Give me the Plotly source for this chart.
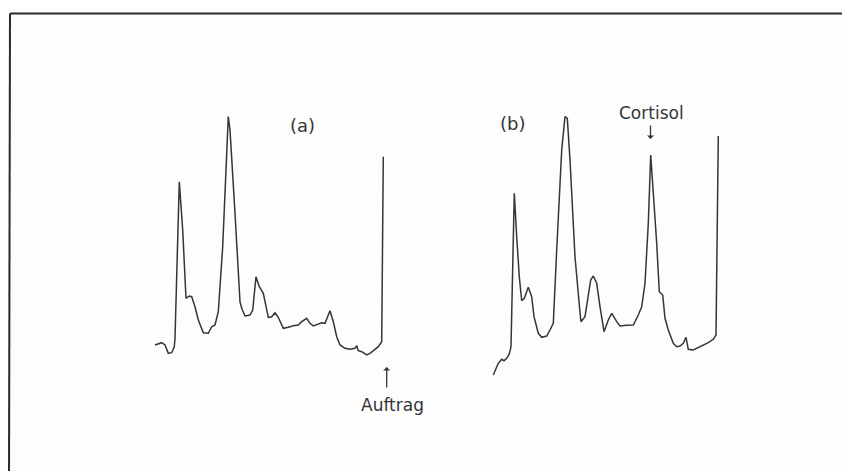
import plotly.graph_objects as go

# Chromatogramm (a): Retentionsposition / Detektorsignal (Bildkoordinaten, y nach unten)
time_a = [155, 161.7, 165, 168.3, 171.7, 174.3, 175, 179.3, 182.7, 186, 189.3, 191.7,
          195, 198.3, 203.3, 208.3, 211.7, 215, 218.3, 222.7, 228.3, 230, 235, 240,
          241.7, 245, 250, 252.7, 256, 259.3, 263.3, 266, 268.3, 271.7, 275, 278.3,
          283.3, 288.3, 293.3, 298.3, 301.7, 306.7, 310, 313.3, 318.3, 321.7, 325,
          330, 333.3, 336.7, 340, 345, 350, 355, 356.7, 358.3, 361.7, 366.7, 370,
          373.3, 378.3, 381.7, 383.3]
signal_a = [345, 342.7, 345, 353.3, 352.7, 346.7, 338.3, 181.7, 230, 298.3, 296, 296.7,
            306.7, 320, 332.7, 333.3, 326.7, 325, 311.7, 246.7, 116.5, 130, 213.3, 301.7,
            308.3, 316, 315, 310, 276.7, 286.7, 293.3, 306.7, 317.3, 316.7, 312.7, 317.3,
            328.3, 327.3, 325.7, 325, 321.7, 318.3, 323.3, 326, 324.3, 322.7, 323.3,
            310.7, 321.7, 336.7, 345, 348.3, 349.3, 348.3, 345.7, 350.7, 351.7, 355, 353.3,
            350.7, 346.7, 341.7, 156.7]

# Chromatogramm (b)
time_b = [493.3, 498.3, 501.7, 504, 506.7, 509.3, 511, 514.3, 516.7, 519.3, 521.7, 524.3,
          528.3, 531.7, 534, 538.3, 541.7, 546.7, 550, 553.3, 556.7, 561.7, 565, 567.3,
          570, 575, 579.3, 581, 585, 587.3, 590.7, 593.3, 596.7, 600, 604, 608.3, 611.7,
          616.7, 620, 626.7, 633.3, 638.3, 641.7, 645, 648.3, 650.7, 653.3, 656.7, 659.3,
          662.7, 665, 668.3, 673.3, 676.7, 680, 683.3, 686, 688.3, 693.3, 698.3, 703.3,
          708.3, 713.3, 716, 718.3]
signal_b = [375, 363.3, 359.3, 360.7, 358.3, 354, 346.7, 193.3, 236.7, 276.7, 300.7, 298.3,
            287.3, 296.7, 316.7, 333.3, 337.3, 336, 330, 323.3, 250, 150, 116.5, 118.3,
            160, 256.7, 305, 321.7, 316.7, 303.3, 280, 276, 283.3, 306.7, 331.7, 320, 313.3,
            321.7, 326, 325.3, 325, 315, 306.7, 283.3, 223.3, 155, 190, 243.3, 291.7,
            295, 318.3, 330, 343.3, 346.7, 346, 343.3, 337.3, 349.3, 350, 347.7, 345,
            342.7, 339.3, 335, 136]

INK = "#353535"
FONT = "DejaVu Sans"

fig = go.Figure()
fig.add_trace(go.Scatter(x=time_a, y=signal_a, mode="lines",
                         line=dict(color=INK, width=1.5), name="(a)"))
fig.add_trace(go.Scatter(x=time_b, y=signal_b, mode="lines",
                         line=dict(color=INK, width=1.5), name="(b)"))

# Rahmen oben und links
fig.add_shape(type="line", x0=10, y0=13.5, x1=860, y1=13.5, line=dict(color="#2a2a2a", width=2))
fig.add_shape(type="line", x0=10, y0=13.5, x1=9, y1=480, line=dict(color="#2a2a2a", width=2))

annotations = [
    dict(x=302, y=125, text="(a)", showarrow=False, font=dict(size=18, color=INK, family=FONT)),
    dict(x=512, y=123, text="(b)", showarrow=False, font=dict(size=18, color=INK, family=FONT)),
    dict(x=651, y=113, text="Cortisol", showarrow=False, font=dict(size=17, color=INK, family=FONT)),
    dict(x=392, y=405, text="Auftrag", showarrow=False, font=dict(size=17, color=INK, family=FONT)),
    # Pfeile
    dict(x=650.5, y=139, ax=650.5, ay=124, xref="x", yref="y", axref="x", ayref="y",
         showarrow=True, arrowhead=1, arrowsize=0.9, arrowwidth=1.3, arrowcolor=INK, text=""),
    dict(x=386.7, y=367, ax=386.7, ay=389, xref="x", yref="y", axref="x", ayref="y",
         showarrow=True, arrowhead=1, arrowsize=0.9, arrowwidth=1.3, arrowcolor=INK, text=""),
]

# Seite hat 8px Rand -> Figur etwas kleiner, Achsen um 8px verschoben (Koordinaten = Bildpixel)
fig.update_layout(
    width=842, height=463,
    margin=dict(l=0, r=0, t=0, b=0),
    paper_bgcolor="#fdfdfd", plot_bgcolor="#fdfdfd",
    showlegend=False,
    xaxis=dict(range=[8, 850], visible=False, fixedrange=True),
    yaxis=dict(range=[471, 8], visible=False, fixedrange=True),
    annotations=annotations,
)

fig.write_html("out.html")
